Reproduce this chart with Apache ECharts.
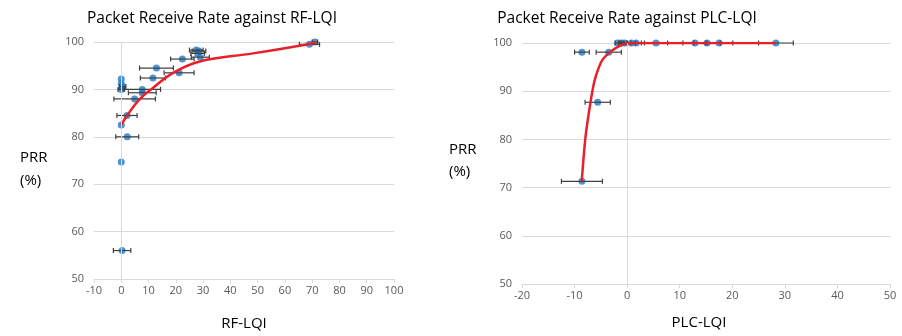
<!DOCTYPE html>
<html><head><meta charset="utf-8">
<script src="https://cdn.jsdelivr.net/npm/echarts@6/dist/echarts.min.js"></script>
<style>html,body{margin:0;padding:0;background:#fff}#c{width:902px;height:336px}</style>
</head><body><div id="c"></div>
<script>
// Left panel: RF-LQI
const rfX   = [0, 0, 0.5, 0, 0, 0, 0.3, 2.2, 2.1, 4.9, 7.7, 7.7, 11.6, 12.9, 21.2, 22.4, 27.5, 28.5, 28, 29, 69, 71];
const rfY   = [92.2, 91.2, 90.6, 90, 82.5, 74.7, 56, 80, 84.5, 88, 90, 89.3, 92.4, 94.5, 93.5, 96.4, 98.3, 98.1, 97.6, 96.8, 99.5, 100];
const rfErr = [0, 0, 1.2, 1.2, 0, 0, 3.2, 4.2, 3.7, 7.6, 6.7, 5.1, 4.6, 6.2, 5.5, 4.3, 2.5, 2.5, 2.5, 3.3, 3.7, 1];
const rfFitX = [0, 2.5, 6.7, 11.6, 19, 28.8, 48.3, 69, 71.5];
const rfFitY = [82.5, 84.8, 87.9, 90.3, 93.5, 95.9, 97.6, 99.6, 100];

// Right panel: PLC-LQI
const plcX   = [-8.6, -8.6, -3.5, -5.6, -1.8, -1.1, -0.5, 0.8, 1.7, 5.5, 12.9, 15.2, 17.5, 28.3];
const plcY   = [71.3, 98.1, 98.1, 87.7, 100, 100, 100, 100, 100, 100, 100, 100, 100, 100];
const plcErr = [3.9, 1.4, 2.4, 2.4, 0.5, 0.5, 0.5, 0.8, 1, 2.2, 2.3, 2.5, 2.6, 3.3];
const plcFitX = [-8.63, -7.93, -7.03, -6.22, -5.4, -4.64, -3.37, -1.79, -0.19, 2.0, 28.3];
const plcFitY = [71.4, 80.4, 87.3, 92.1, 94.9, 96.6, 98.0, 99.2, 99.86, 100, 100];

const titles = ['Packet Receive Rate against RF-LQI', 'Packet Receive Rate against PLC-LQI'];
const xNames = ['RF-LQI', 'PLC-LQI'];
const yName = 'PRR\n(%)';

const TXT = '#595959', GRID = '#d9d9d9', BLUE = '#2079c7', RED = '#e8202a', ERR = '#404040';
const FONT = '"Open Sans", "Noto Sans", sans-serif';

function errData(xs, ys, es) { return xs.map((x, i) => [x, ys[i], es[i]]); }
function pairs(xs, ys) { return xs.map((x, i) => [x, ys[i]]); }

function errSeries(idx, data) {
  return {
    type: 'custom', xAxisIndex: idx, yAxisIndex: idx, z: 3, silent: true,
    data: data,
    renderItem: function (params, api) {
      const x = api.value(0), y = api.value(1), e = api.value(2);
      if (!e) return null;
      const a = api.coord([x - e, y]), b = api.coord([x + e, y]);
      const h = 2.5;
      const st = { stroke: ERR, lineWidth: 1.2 };
      return { type: 'group', children: [
        { type: 'line', shape: { x1: a[0], y1: a[1], x2: b[0], y2: b[1] }, style: st },
        { type: 'line', shape: { x1: a[0], y1: a[1] - h, x2: a[0], y2: a[1] + h }, style: st },
        { type: 'line', shape: { x1: b[0], y1: b[1] - h, x2: b[0], y2: b[1] + h }, style: st }
      ]};
    }
  };
}

function xAxis(idx, min, max, interval, name, gap, pad) {
  return {
    type: 'value', gridIndex: idx, min: min, max: max, interval: interval,
    name: name, nameLocation: 'middle', nameGap: gap,
    nameTextStyle: { color: '#000', fontSize: 15, fontFamily: FONT, padding: pad },
    axisLine: { onZero: false, lineStyle: { color: GRID, width: 1 } },
    axisTick: { show: true, length: 4, lineStyle: { color: GRID } },
    axisLabel: { color: TXT, fontSize: 11, fontFamily: FONT, margin: 6 },
    splitLine: { show: false }
  };
}
function yAxis(idx) {
  return {
    type: 'value', gridIndex: idx, min: 50, max: 100, interval: 10,
    axisLine: { show: false }, axisTick: { show: false },
    axisLabel: { color: TXT, fontSize: 11, fontFamily: FONT, margin: 10 },
    splitLine: { lineStyle: { color: GRID, width: 1 } }
  };
}

const chart = echarts.init(document.getElementById('c'), null, { renderer: 'canvas' });
chart.setOption({
  animation: false,
  backgroundColor: '#fff',
  title: [
    { text: titles[0], left: 207, top: 6, textAlign: 'center', textStyle: { fontSize: 15.5, fontWeight: 'normal', color: '#000', fontFamily: FONT } },
    { text: titles[1], left: 622, top: 6, textAlign: 'center', textStyle: { fontSize: 15.5, fontWeight: 'normal', color: '#000', fontFamily: FONT } }
  ],
  graphic: [
    { type: 'text', left: 20, top: 146, style: { text: yName, fill: '#000', font: '15px ' + FONT, lineHeight: 23 } },
    { type: 'text', left: 449, top: 139, style: { text: yName, fill: '#000', font: '15px ' + FONT, lineHeight: 22 } }
  ],
  grid: [
    { left: 94, top: 42, width: 300, height: 239 },
    { left: 522, top: 43, width: 368, height: 241 }
  ],
  xAxis: [xAxis(0, -10, 100, 10, xNames[0], 37, [0, 0, 0, 0]), xAxis(1, -20, 50, 10, xNames[1], 31, [0, 14, 0, 0])],
  yAxis: [yAxis(0), yAxis(1)],
  series: [
    {
      type: 'line', xAxisIndex: 0, yAxisIndex: 0, data: [], silent: true,
      markLine: { silent: true, symbol: 'none', label: { show: false }, lineStyle: { color: GRID, type: 'solid', width: 1 }, data: [{ xAxis: 0 }] }
    },
    {
      type: 'line', xAxisIndex: 1, yAxisIndex: 1, data: [], silent: true,
      markLine: { silent: true, symbol: 'none', label: { show: false }, lineStyle: { color: GRID, type: 'solid', width: 1 }, data: [{ xAxis: 0 }] }
    },
    { type: 'scatter', xAxisIndex: 0, yAxisIndex: 0, data: pairs(rfX, rfY), symbolSize: 7, itemStyle: { color: BLUE }, z: 2 },
    { type: 'scatter', xAxisIndex: 1, yAxisIndex: 1, data: pairs(plcX, plcY), symbolSize: 7, itemStyle: { color: BLUE }, z: 2 },
    errSeries(0, errData(rfX, rfY, rfErr)),
    errSeries(1, errData(plcX, plcY, plcErr)),
    { type: 'line', xAxisIndex: 0, yAxisIndex: 0, data: pairs(rfFitX, rfFitY), smooth: 0.4, showSymbol: false, lineStyle: { color: RED, width: 2.5 }, z: 4 },
    { type: 'line', xAxisIndex: 1, yAxisIndex: 1, data: pairs(plcFitX, plcFitY), smooth: 0.25, showSymbol: false, lineStyle: { color: RED, width: 2.5 }, z: 4 }
  ]
});
</script>
</body></html>
